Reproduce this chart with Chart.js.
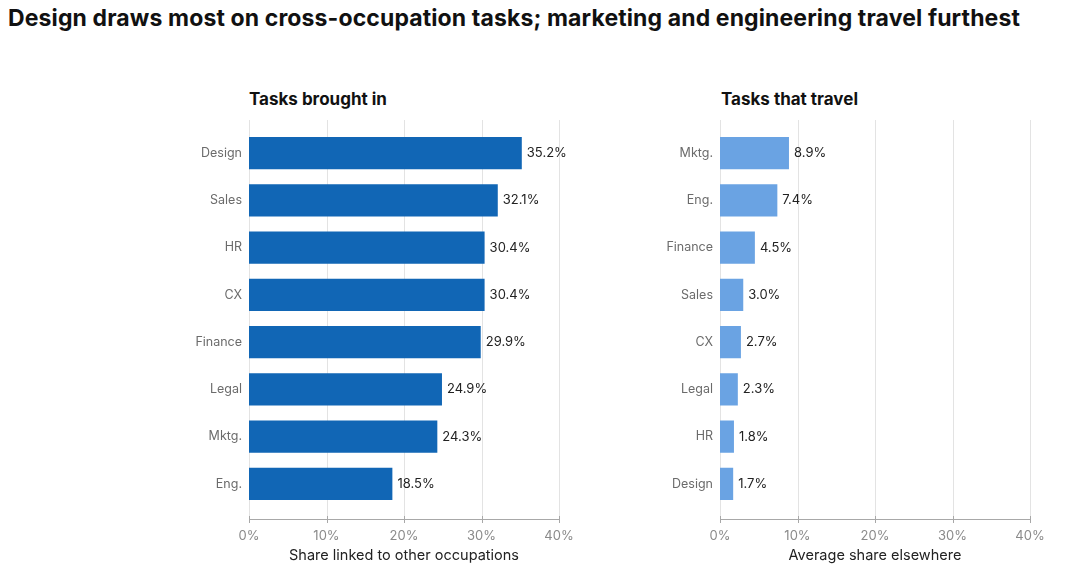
<!DOCTYPE html>
<html>
<head>
<meta charset="utf-8">
<script src="https://cdn.jsdelivr.net/npm/chart.js@4"></script>
<style>
  html, body { margin: 0; padding: 0; background: #fff; }
  body { width: 1080px; height: 581px; position: relative; overflow: hidden; font-family: Inter, "Noto Sans", sans-serif; }
  .main-title { position: absolute; left: 8px; top: 4px; font-size: 23px; line-height: 28px; font-weight: 700; color: #111; letter-spacing: 0.12px; white-space: nowrap; }
  .sub { position: absolute; top: 89px; font-size: 17px; line-height: 21px; font-weight: 700; color: #111; white-space: nowrap; }
  .panel { position: absolute; top: 100px; height: 481px; }
</style>
</head>
<body>
<div class="main-title">Design draws most on cross-occupation tasks; marketing and engineering travel furthest</div>
<div class="sub" style="left:249px">Tasks brought in</div>
<div class="sub" style="left:721px">Tasks that travel</div>
<div class="panel" style="left:0;width:600px"><canvas id="leftChart"></canvas></div>
<div class="panel" style="left:600px;width:480px"><canvas id="rightChart"></canvas></div>

<script>
// ===== DATA =====
const inLabels  = ['Design', 'Sales', 'HR', 'CX', 'Finance', 'Legal', 'Mktg.', 'Eng.'];
const inValues  = [35.2, 32.1, 30.4, 30.4, 29.9, 24.9, 24.3, 18.5];

const outLabels = ['Mktg.', 'Eng.', 'Finance', 'Sales', 'CX', 'Legal', 'HR', 'Design'];
const outValues = [8.9, 7.4, 4.5, 3.0, 2.7, 2.3, 1.8, 1.7];

const xTicks = [0, 10, 20, 30, 40];

// grid lines that run a bit past the bars, plus axis line with small ticks
const extendGrid = {
    id: 'extendGrid',
    beforeDatasetsDraw(chart) {
        const { ctx, chartArea, scales } = chart;
        const x = scales.x;
        const top = chartArea.top - 9.5;
        const bottom = chartArea.bottom + 11.5;
        ctx.save();
        ctx.lineWidth = 1;
        ctx.strokeStyle = '#e3e3e3';
        xTicks.forEach(t => {
            const px = Math.round(x.getPixelForValue(t)) + 0.5;
            ctx.beginPath();
            ctx.moveTo(px, top);
            ctx.lineTo(px, bottom);
            ctx.stroke();
        });
        ctx.strokeStyle = '#a8a8a8';
        ctx.beginPath();
        ctx.moveTo(x.getPixelForValue(0), Math.round(bottom) + 0.5);
        ctx.lineTo(x.getPixelForValue(40), Math.round(bottom) + 0.5);
        ctx.stroke();
        xTicks.forEach(t => {
            const px = Math.round(x.getPixelForValue(t)) + 0.5;
            ctx.beginPath();
            ctx.moveTo(px, Math.round(bottom) - 3);
            ctx.lineTo(px, Math.round(bottom) + 4);
            ctx.stroke();
        });
        ctx.restore();
    }
};

// value labels at bar ends
const valueLabels = {
    id: 'valueLabels',
    afterDatasetsDraw(chart) {
        const { ctx } = chart;
        const meta = chart.getDatasetMeta(0);
        const data = chart.data.datasets[0].data;
        ctx.save();
        ctx.font = '13px Inter, "Noto Sans", sans-serif';
        ctx.fillStyle = '#222';
        ctx.textBaseline = 'middle';
        ctx.textAlign = 'left';
        meta.data.forEach((bar, i) => {
            ctx.fillText(data[i].toFixed(1) + '%', bar.x + 5, bar.y);
        });
        ctx.restore();
    }
};

function makeChart(id, labels, values, color, yWidth, padRight, axisTitle) {
    return new Chart(document.getElementById(id), {
        type: 'bar',
        data: {
            labels: labels,
            datasets: [{
                data: values,
                backgroundColor: color,
                borderWidth: 0,
                barPercentage: 0.68,
                categoryPercentage: 1
            }]
        },
        options: {
            indexAxis: 'y',
            responsive: true,
            maintainAspectRatio: false,
            animation: false,
            layout: { padding: { top: 29.5, right: padRight, left: 0, bottom: 0 } },
            plugins: {
                legend: { display: false },
                tooltip: { enabled: false }
            },
            scales: {
                x: {
                    min: 0,
                    max: 40,
                    afterBuildTicks: s => { s.ticks = xTicks.map(v => ({ value: v })); },
                    grid: { display: false, drawTicks: false },
                    border: { display: false },
                    ticks: {
                        color: '#8a8a8a',
                        font: { size: 13, family: 'Inter, "Noto Sans", sans-serif' },
                        padding: 21,
                        maxRotation: 0,
                        callback: v => v + '%'
                    },
                    title: {
                        display: true,
                        text: axisTitle,
                        color: '#222',
                        font: { size: 14.5, family: 'Inter, "Noto Sans", sans-serif' },
                        padding: { top: 2, bottom: 17 }
                    },
                    afterFit: s => { s.height = 73.5; }
                },
                y: {
                    grid: { display: false, drawTicks: false },
                    border: { display: false },
                    ticks: {
                        color: '#6b6b6b',
                        font: { size: 12.5, family: 'Inter, "Noto Sans", sans-serif' },
                        padding: 7
                    },
                    afterFit: s => { s.width = yWidth; }
                }
            }
        },
        plugins: [extendGrid, valueLabels]
    });
}

makeChart('leftChart', inLabels, inValues, '#1166b5', 249, 41, 'Share linked to other occupations');
makeChart('rightChart', outLabels, outValues, '#6aa3e3', 120, 50, 'Average share elsewhere');
</script>
</body>
</html>
